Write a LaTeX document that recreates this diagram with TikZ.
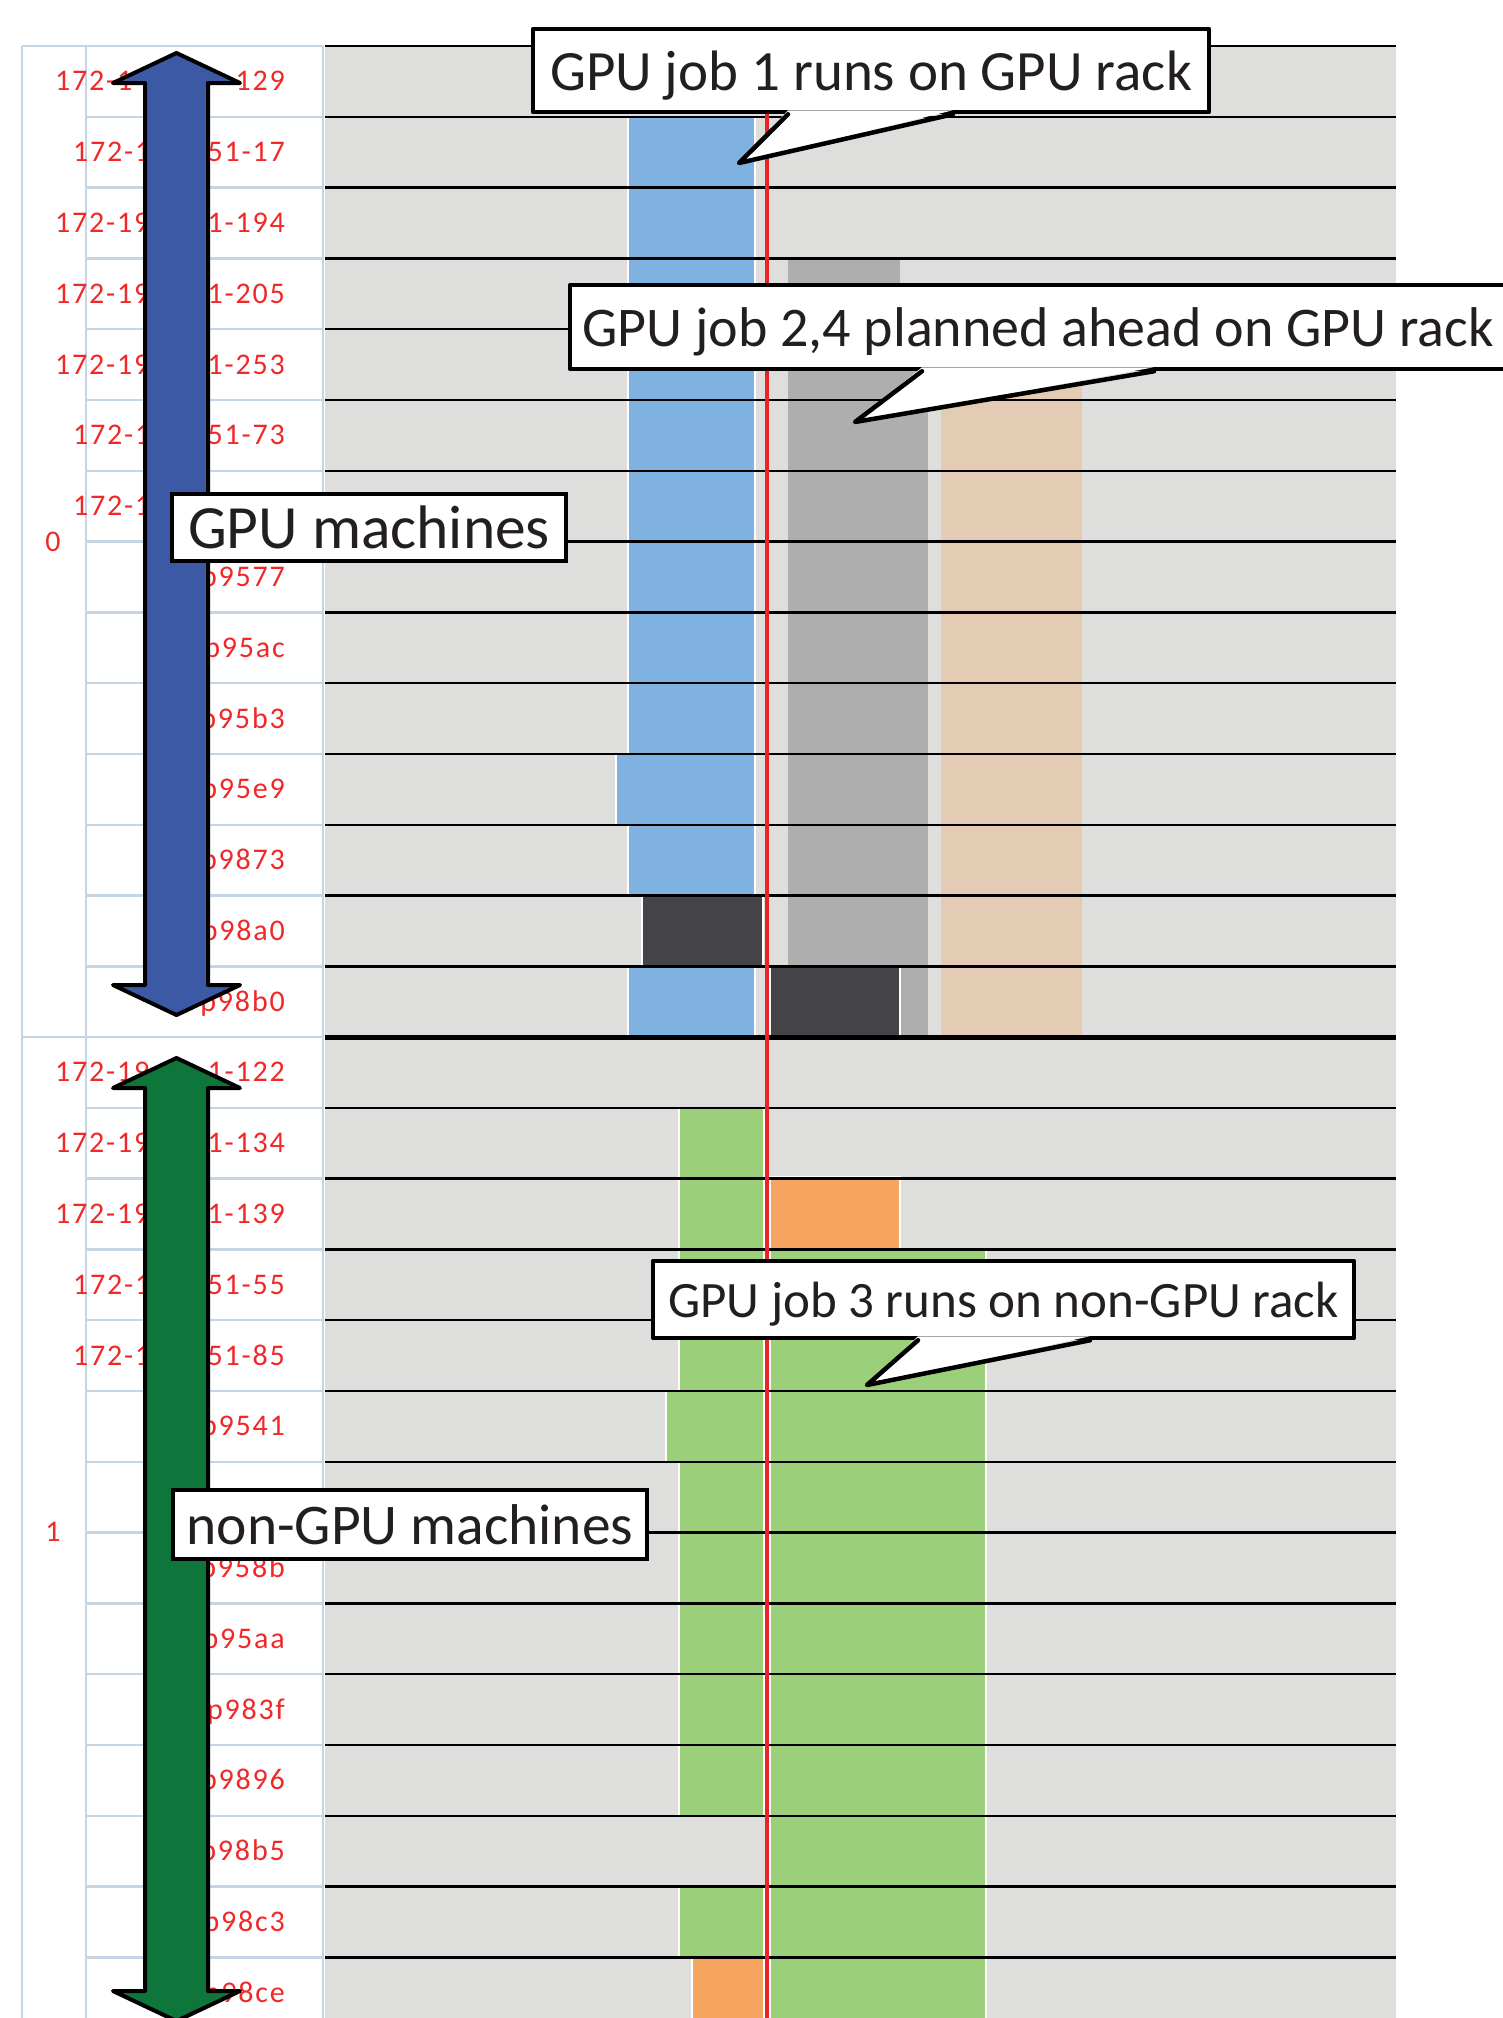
\documentclass[tikz,border=0pt]{standalone}
\usepackage{fontspec}
\setmainfont{Carlito}
\newfontfamily\hostfont[LetterSpace=6]{Carlito}
\usetikzlibrary{calc}

\definecolor{chartgray}{RGB}{222,222,220}
\definecolor{gridblue}{RGB}{198,213,228}
\definecolor{lblred}{RGB}{240,40,40}
\definecolor{nowred}{RGB}{237,34,36}
\definecolor{jobblue}{RGB}{127,178,224}
\definecolor{jobdark}{RGB}{68,68,72}
\definecolor{jobgray}{RGB}{174,174,174}
\definecolor{jobbeige}{RGB}{227,204,179}
\definecolor{jobgreen}{RGB}{155,207,122}
\definecolor{joborange}{RGB}{245,165,95}
\definecolor{arrblue}{RGB}{60,89,165}
\definecolor{arrgreen}{RGB}{14,117,59}
\definecolor{ink}{RGB}{35,31,32}

% double block arrow between two tip heights
\newcommand\blockarrow[3]{%
  \filldraw[blockarr, fill=#3] (176.5,#1) -- (240,{#1+30}) -- (208,{#1+30}) -- (208,{#2-30})
    -- (240,{#2-30}) -- (176.5,#2) -- (113,{#2-30}) -- (145,{#2-30}) -- (145,{#1+30})
    -- (113,{#1+30}) -- cycle;}

\begin{document}
\begin{tikzpicture}[x=1pt,y=-1pt,
    declare function={gtop(\i)=46+(\i-1)*70.8; ntop(\i)=1037+(\i-1)*70.8;},
    gridln/.style={draw=gridblue, line width=2.5pt},
    rowln/.style={draw=black, line width=2.5pt},
    host/.style={text=lblred, font=\hostfont\fontsize{30}{36}\selectfont, inner sep=0pt},
    jobbar/.style={draw=white, line width=1.5pt},
    nowline/.style={draw=nowred, line width=4.5pt},
    blockarr/.style={draw=black, line width=4pt, line join=round},
    tagbox/.style={draw=black, fill=white, line width=4.5pt, text=ink, inner sep=0pt, text depth=0pt},
    callout/.style={draw=black, fill=white, line width=4.5pt, line join=round, text=ink, inner sep=0pt, text depth=0pt},
    tailln/.style={draw=black, line width=4.5pt, line join=round, line cap=round}
]
\useasboundingbox (0,0) rectangle (1502,2018);

% label column grid
\foreach \x in {22,86,323} \draw[gridln] (\x,46) -- (\x,2018);
\draw[gridln] (22,46) -- (323,46);
\draw[gridln] (22,1037) -- (323,1037);
\foreach \i in {2,...,14} {
  \draw[gridln] (86,{gtop(\i)}) -- (323,{gtop(\i)});
  \draw[gridln] (86,{ntop(\i)}) -- (323,{ntop(\i)});
}

% host names
\foreach \i/\t in {1/129, 2/51-17, 3/1-194, 4/1-205, 5/1-253, 6/51-73, 8/p9577,
    9/p95ac, 10/p95b3, 11/p95e9, 12/p9873, 13/p98a0, 14/p98b0}
  \node[host, anchor=base east] (gr\i) at (285,{gtop(\i)+44.9}) {\t};
\foreach \i/\x/\t in {1/55/172-1, 2/73/172-1, 3/55/172-19, 4/55/172-19, 5/55/172-19,
    6/73/172-1, 7/73/172-1}
  \node[host, anchor=base west] (gl\i) at (\x,{gtop(\i)+44.9}) {\t};
\foreach \i/\t in {1/1-122, 2/1-134, 3/1-139, 4/51-55, 5/51-85, 6/p9541, 8/p958b,
    9/p95aa, 10/p983f, 11/p9896, 12/p98b5, 13/p98c3, 14/p98ce}
  \node[host, anchor=base east] (nr\i) at (285,{ntop(\i)+44.9}) {\t};
\foreach \i/\x/\t in {1/55/172-19, 2/55/172-19, 3/55/172-19, 4/73/172-1, 5/73/172-1}
  \node[host, anchor=base west] (nl\i) at (\x,{ntop(\i)+44.9}) {\t};
\node[host] (grp0) at (53,541.5) {0};
\node[host] (grp1) at (53,1532) {1};

% chart area
\fill[chartgray] (325,46) rectangle (1396,2018);

% GPU rack jobs
\path[jobbar, fill=jobblue] (628,{gtop(2)}) rectangle (755,{gtop(13)});
\path[jobbar, fill=jobblue] (616,{gtop(11)}) rectangle (755,{gtop(12)});
\path[jobbar, fill=jobblue] (628,{gtop(14)}) rectangle (755,1037);
\path[jobbar, fill=jobdark] (642,{gtop(13)}) rectangle (763,{gtop(14)});
\fill[jobgray] (788,{gtop(4)}) rectangle (900,{gtop(5)});
\fill[jobgray] (788,{gtop(5)}) rectangle (928,1037);
\path[jobbar, fill=jobdark] (770,{gtop(14)}) rectangle (900,1037);
\fill[jobbeige] (941,{gtop(5)}) rectangle (1082,1037);

% non-GPU rack jobs
\path[jobbar, fill=jobgreen] (679,{ntop(2)}) rectangle (764,{ntop(12)});
\path[jobbar, fill=jobgreen] (666,{ntop(6)}) rectangle (764,{ntop(7)});
\path[jobbar, fill=jobgreen] (679,{ntop(13)}) rectangle (764,{ntop(14)});
\path[jobbar, fill=joborange] (770,{ntop(3)-2}) rectangle (900,{ntop(4)});
\path[jobbar, fill=jobgreen] (770,{ntop(4)}) rectangle (986,2030);
\path[jobbar, fill=joborange] (692,{ntop(14)}) rectangle (764,2030);

% row separators
\foreach \i in {1,...,14} \draw[rowln] (325,{gtop(\i)}) -- (1396,{gtop(\i)});
\foreach \i in {2,...,14} \draw[rowln] (325,{ntop(\i)}) -- (1396,{ntop(\i)});
\draw[rowln, line width=5pt] (325,1037) -- (1396,1037);

% current time
\draw[nowline] (767,46) -- (767,2018);

% rack arrows
\blockarrow{53}{1015}{arrblue}
\blockarrow{1058}{2021}{arrgreen}

\node[tagbox, minimum width=394pt, minimum height=67pt, font=\fontsize{61.5}{72}\selectfont]
  (gpu) at (369,527.5) {GPU machines};
\node[tagbox, minimum width=474pt, minimum height=69pt, font=\fontsize{57.5}{69}\selectfont]
  (nongpu) at (410,1524.5) {non-GPU machines};

% callouts
\coordinate (tip1) at (739,163);
\coordinate (tip2) at (855,422);
\coordinate (tip3) at (867,1385);

\node[callout, minimum width=676pt, minimum height=83pt, font=\fontsize{57}{68}\selectfont]
  (job1) at (871,70.5) {GPU job 1 runs on GPU rack};
\fill[white] ([xshift=-83pt,yshift=4pt]job1.south) -- (tip1) -- ([xshift=82pt,yshift=4pt]job1.south) -- cycle;
\draw[tailln] ([xshift=-83pt]job1.south) -- (tip1) -- ([xshift=82pt]job1.south);

\node[callout, minimum width=936pt, minimum height=84pt, font=\fontsize{56}{67}\selectfont]
  (job24) at (1038,327) {GPU job 2,4 planned ahead on GPU rack};
\fill[white] ([xshift=-116pt,yshift=4pt]job24.south) -- (tip2) -- ([xshift=116pt,yshift=4pt]job24.south) -- cycle;
\draw[tailln] ([xshift=-116pt]job24.south) -- (tip2) -- ([xshift=116pt]job24.south);

\node[callout, minimum width=701pt, minimum height=77pt, font=\fontsize{51}{61}\selectfont]
  (job3) at (1003.5,1299.5) {GPU job 3 runs on non-GPU rack};
\fill[white] ([xshift=-85.5pt,yshift=4pt]job3.south) -- (tip3) -- ([xshift=86.5pt,yshift=4pt]job3.south) -- cycle;
\draw[tailln] ([xshift=-85.5pt]job3.south) -- (tip3) -- ([xshift=86.5pt]job3.south);
\end{tikzpicture}
\end{document}
